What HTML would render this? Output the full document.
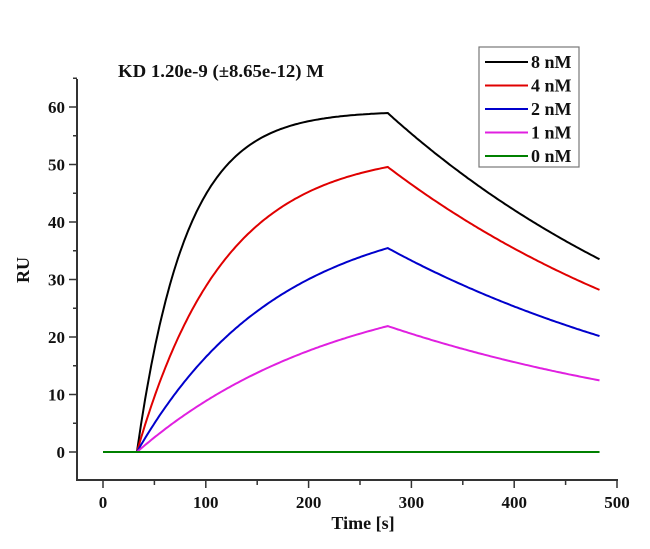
<!DOCTYPE html>
<html><head><meta charset="utf-8"><style>
body{margin:0;background:#fff;}
svg{display:block;font-family:"Liberation Serif",serif;font-weight:bold;}
</style></head><body>
<svg id="s" width="650" height="549" viewBox="0 0 650 549" xmlns="http://www.w3.org/2000/svg">
<rect width="650" height="549" fill="#fff"/>
<g stroke="#333" stroke-width="2" fill="none">
<line x1="77" y1="79" x2="77" y2="481"/>
<line x1="76" y1="480" x2="618" y2="480"/>
</g>
<g id="ticks" stroke="#333" stroke-width="1.5"></g>
<g id="labels" font-size="17" fill="#111"></g>
<text x="118" y="77" font-size="18" fill="#111" textLength="206" lengthAdjust="spacingAndGlyphs">KD 1.20e-9 (±8.65e-12) M</text>
<text x="363" y="529" font-size="18" fill="#111" text-anchor="middle">Time [s]</text>
<text transform="translate(29,270) rotate(-90)" font-size="18" fill="#111" text-anchor="middle">RU</text>
<g id="curves" fill="none" stroke-width="2"></g>
<rect x="479" y="47" width="100" height="120" fill="#fff" stroke="#777" stroke-width="1.2"/>
<g id="legend" font-size="18" fill="#111"></g>
</svg>
<script>
const NS="http://www.w3.org/2000/svg";
const X=t=>103+t*1.028, Y=v=>452-v*5.75;
function el(p,tag,a,txt){const e=document.createElementNS(NS,tag);for(const k in a)e.setAttribute(k,a[k]);if(txt!==undefined)e.textContent=txt;document.getElementById(p).appendChild(e);}
for(let v=0;v<=65;v+=5){const big=v%10==0;el("ticks","line",{x1:big?69:73,x2:77,y1:Y(v),y2:Y(v)});if(big)el("labels","text",{x:65,y:Y(v)+6,"text-anchor":"end"},v);}
for(let t=0;t<=500;t+=50){const big=t%100==0;el("ticks","line",{x1:X(t),x2:X(t),y1:480,y2:big?488:485});if(big)el("labels","text",{x:X(t),y:508,"text-anchor":"middle"},t);}
const kd=0.00274,KD=1.2e-9,ka=kd/KD,Rmax=68.2;
const series=[[8,"#000"],[4,"#e00000"],[2,"#0000cc"],[1,"#e020e0"],[0,"#008000"]];
series.forEach(([c,col],i)=>{
  let d="";
  if(c==0){d=`M${X(0)},${Y(0)}L${X(483)},${Y(0)}`;}
  else{const C=c*1e-9,kobs=ka*C+kd,Req=Rmax*C/(C+KD);let pk=0;
    for(let t=33;t<=277;t+=2){const v=Req*(1-Math.exp(-kobs*(t-33)));pk=v;d+=(d?"L":"M")+X(t).toFixed(1)+","+Y(v).toFixed(1);}
    for(let t=279;t<=483;t+=2){const v=pk*Math.exp(-kd*(t-277));d+="L"+X(t).toFixed(1)+","+Y(v).toFixed(1);}}
  el("curves","path",{d,stroke:col});
  const y=62+i*23.5;
  el("legend","line",{x1:485,x2:528,y1:y,y2:y,stroke:col,"stroke-width":2});
  el("legend","text",{x:531,y:y+6},c+" nM");
});
</script>
</body></html>
